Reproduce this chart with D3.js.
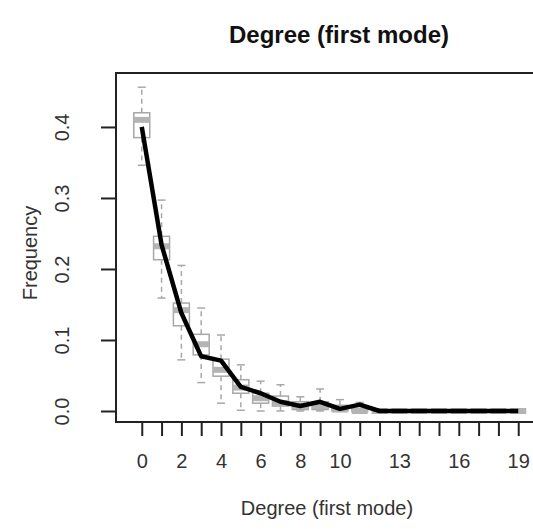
<!DOCTYPE html>
<html><head><meta charset="utf-8">
<script src="https://cdn.jsdelivr.net/npm/d3@7"></script>
<style>html,body{margin:0;padding:0;background:#fff;}svg{display:block;font-family:"Liberation Sans",Arial,sans-serif;}</style>
</head><body>
<svg id="c" width="533" height="529"></svg>
<script>
const categories = d3.range(0, 20);
const xTickLabels = [0, 2, 4, 6, 8, 10, 13, 16, 19];
const yTicks = [0.0, 0.1, 0.2, 0.3, 0.4];
const observed = [0.400, 0.234, 0.138, 0.077, 0.071, 0.034, 0.025, 0.013, 0.007, 0.013, 0.003, 0.009, 0, 0, 0, 0, 0, 0, 0, 0];
const q1     = [0.385, 0.213, 0.120, 0.079, 0.049, 0.025, 0.011, 0.007, 0.002, 0.002, 0.000, 0.000, 0, 0, 0, 0, 0, 0, 0, 0];
const median = [0.410, 0.232, 0.142, 0.094, 0.058, 0.033, 0.018, 0.011, 0.007, 0.007, 0.002, 0.000, 0, 0, 0, 0, 0, 0, 0, 0];
const q3     = [0.420, 0.246, 0.152, 0.108, 0.073, 0.044, 0.025, 0.021, 0.013, 0.013, 0.008, 0.006, 0, 0, 0, 0, 0, 0, 0, 0];
const whiskLo= [0.346, 0.159, 0.072, 0.040, 0.011, 0.001, 0.000, 0.000, 0.000, 0.000, 0.000, 0.000, 0, 0, 0, 0, 0, 0, 0, 0];
const whiskHi= [0.456, 0.297, 0.205, 0.145, 0.107, 0.065, 0.042, 0.037, 0.020, 0.031, 0.016, 0.012, 0, 0, 0, 0, 0, 0, 0, 0];

const svg = d3.select("#c");
const x = d3.scaleLinear().domain([-1.3, 20.3]).range([116, 544]);
const y = d3.scaleLinear().domain([-0.0155, 0.476]).range([422, 73]);
const boxW = 16, stapleW = 8;
const grey = "#a8a8a8";

const g = svg.append("g");
categories.forEach((c, i) => {
  const cx = x(c);
  g.append("line").attr("x1", cx).attr("x2", cx).attr("y1", y(q3[i])).attr("y2", y(whiskHi[i]))
    .attr("stroke", grey).attr("stroke-width", 1.5).attr("stroke-dasharray", "5,4");
  g.append("line").attr("x1", cx).attr("x2", cx).attr("y1", y(q1[i])).attr("y2", y(whiskLo[i]))
    .attr("stroke", grey).attr("stroke-width", 1.5).attr("stroke-dasharray", "5,4");
  [whiskHi[i], whiskLo[i]].forEach(v => {
    g.append("line").attr("x1", cx - stapleW/2).attr("x2", cx + stapleW/2).attr("y1", y(v)).attr("y2", y(v))
      .attr("stroke", grey).attr("stroke-width", 1.5);
  });
  g.append("rect").attr("x", cx - boxW/2).attr("width", boxW)
    .attr("y", y(q3[i])).attr("height", Math.max(0, y(q1[i]) - y(q3[i])))
    .attr("fill", "#fff").attr("stroke", grey).attr("stroke-width", 1.5);
  g.append("line").attr("x1", cx - boxW/2).attr("x2", cx + boxW/2).attr("y1", y(median[i])).attr("y2", y(median[i]))
    .attr("stroke", "#b4b4b4").attr("stroke-width", 6);
});

svg.append("path").datum(observed)
  .attr("d", d3.line().x((d, i) => x(categories[i])).y(d => y(d)))
  .attr("fill", "none").attr("stroke", "#000").attr("stroke-width", 4.5).attr("stroke-linejoin", "round");

svg.append("rect").attr("x", 116).attr("y", 73).attr("width", 544 - 116).attr("height", 422 - 73)
  .attr("fill", "none").attr("stroke", "#222").attr("stroke-width", 2);

const xAxis = d3.axisBottom(x).tickValues(categories).tickSize(14).tickFormat(d => xTickLabels.includes(d) ? d : "");
const xa = svg.append("g").attr("transform", "translate(0,422)").call(xAxis);
xa.select(".domain").remove();
xa.selectAll(".tick line").attr("stroke", "#222").attr("stroke-width", 2);
xa.selectAll(".tick text").attr("font-size", 20).attr("fill", "#333").attr("font-family", "Liberation Sans, Arial, sans-serif")
  .attr("y", 46).attr("dy", null);

const yAxis = d3.axisLeft(y).tickValues(yTicks).tickSize(15).tickFormat(d3.format(".1f"));
const ya = svg.append("g").attr("transform", "translate(116,0)").call(yAxis);
ya.select(".domain").remove();
ya.selectAll(".tick line").attr("stroke", "#222").attr("stroke-width", 2);
ya.selectAll(".tick text").attr("font-size", 20).attr("fill", "#333").attr("font-family", "Liberation Sans, Arial, sans-serif")
  .attr("x", null).attr("dy", null).attr("text-anchor", "middle")
  .attr("transform", "translate(-47,0) rotate(-90)").attr("y", 0);

svg.append("text").attr("x", 339).attr("y", 43).attr("text-anchor", "middle")
  .attr("font-size", 24).attr("font-weight", "bold").attr("fill", "#111").text("Degree (first mode)");
svg.append("text").attr("x", 327).attr("y", 515).attr("text-anchor", "middle")
  .attr("font-size", 20).attr("fill", "#333").text("Degree (first mode)");
svg.append("text").attr("transform", "translate(37,253) rotate(-90)").attr("text-anchor", "middle")
  .attr("font-size", 20).attr("fill", "#333").text("Frequency");
</script>
</body></html>
